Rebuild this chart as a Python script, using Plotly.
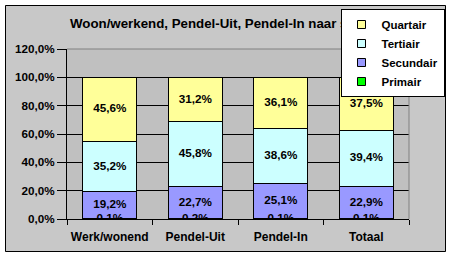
import plotly.graph_objects as go

# ---------------- data ----------------
categories = ["Werk/wonend", "Pendel-Uit", "Pendel-In", "Totaal"]
primair = [0.1, 0.2, 0.1, 0.1]
secundair = [19.2, 22.7, 25.1, 22.9]
tertiair = [35.2, 45.8, 38.6, 39.4]
quartair = [45.6, 31.2, 36.1, 37.5]
y_ticks = [0, 20, 40, 60, 80, 100, 120]
title_text = "Woon/werkend, Pendel-Uit, Pendel-In naar sector"

series = [
    ("Primair", primair, "#00FF00"),
    ("Secundair", secundair, "#9999FF"),
    ("Tertiair", tertiair, "#CCFFFF"),
    ("Quartair", quartair, "#FFFF99"),
]

W, H = 450, 257
ML, MR, MT, MB = 67, 41, 49, 38
PW, PH = W - ML - MR, H - MT - MB
FONT = "Liberation Sans"


def px_x(p):
    return (p - ML) / PW


def px_y(p):
    return 1 - (p - MT) / PH


# white margin outside the black frame
frame = [(0, 0, W, 5), (0, 252, W, H), (0, 0, 5, H), (446, 0, W, H)]
frame_shapes = [dict(type="rect", xref="paper", yref="paper", layer="above",
                     x0=px_x(a), x1=px_x(c), y0=px_y(b), y1=px_y(d),
                     line=dict(width=0), fillcolor="white") for a, b, c, d in frame]

# ---------------- figure ----------------
fig = go.Figure()

for name, vals, col in series:
    fig.add_trace(go.Bar(
        x=categories, y=vals, name=name, showlegend=False,
        marker=dict(color=col, line=dict(color="black", width=1)),
        hoverinfo="skip",
    ))

# data labels at segment midpoints
cum = [0.0] * len(categories)
for name, vals, col in series:
    mids = [c + v / 2 for c, v in zip(cum, vals)]
    cum = [c + v for c, v in zip(cum, vals)]
    fig.add_trace(go.Scatter(
        x=categories, y=mids, mode="text", showlegend=False, hoverinfo="skip",
        text=[f"{v:.1f}".replace(".", ",") + "%" for v in vals],
        textposition="middle center",
        textfont=dict(family=FONT, size=11.7, color="black", weight="bold"),
    ))

# legend entries (top to bottom)
for name, vals, col in reversed(series):
    fig.add_trace(go.Scatter(
        x=[None], y=[None], mode="markers", name=name,
        marker=dict(symbol="square", size=8, color=col, line=dict(color="black", width=1)),
    ))

fig.update_layout(
    width=W, height=H,
    margin=dict(l=ML, r=MR, t=MT, b=MB, pad=0, autoexpand=False),
    paper_bgcolor="rgb(200,200,200)",
    plot_bgcolor="#C0C0C0",
    barmode="stack",
    bargap=0.37,
    separators=", ",
    font=dict(family=FONT, color="black"),
    legend=dict(x=340.5 / W, y=1 - 9 / H, xref="container", yref="container",
                xanchor="left", yanchor="top",
                bgcolor="white", bordercolor="black", borderwidth=1,
                traceorder="normal",
                font=dict(family=FONT, size=11.5, color="black", weight="bold")),
    xaxis=dict(type="category", showline=True, linecolor="black", linewidth=1,
               ticks="outside", tickson="boundaries", ticklen=5, tickcolor="black",
               showgrid=False, ticklabelstandoff=7, tickangle=0,
               tickfont=dict(family=FONT, size=12, color="black", weight="bold")),
    yaxis=dict(range=[0, 120], tickvals=y_ticks,
               ticktext=[f"{v:.1f}".replace(".", ",") + "%" for v in y_ticks],
               showline=True, linecolor="black", linewidth=1,
               ticks="outside", ticklen=9, tickcolor="black",
               showgrid=True, gridcolor="black", gridwidth=1, zeroline=False,
               tickfont=dict(family=FONT, size=11.7, color="black", weight="bold")),
    shapes=frame_shapes + [
        # chart title, drawn as a shape label so the legend box sits on top of it
        dict(type="rect", xref="paper", yref="paper", layer="above",
             x0=px_x(25), x1=px_x(425), y0=px_y(14), y1=px_y(30),
             line=dict(width=0), fillcolor="rgba(0,0,0,0)",
             label=dict(text=title_text, textposition="middle center",
                        font=dict(family=FONT, size=13.3, color="black", weight="bold"))),
        dict(type="rect", xref="paper", yref="paper", layer="above",
             x0=px_x(5.5), x1=px_x(445.5), y0=px_y(5.5), y1=px_y(251.5),
             line=dict(color="black", width=1), fillcolor="rgba(0,0,0,0)"),
        dict(type="line", xref="paper", yref="paper", layer="above",
             x0=0, x1=1, y0=1, y1=1, line=dict(color="#808080", width=1)),
        dict(type="line", xref="paper", yref="paper", layer="above",
             x0=1, x1=1, y0=0, y1=1, line=dict(color="#808080", width=1)),
    ],
)

fig.write_html("out.html")
